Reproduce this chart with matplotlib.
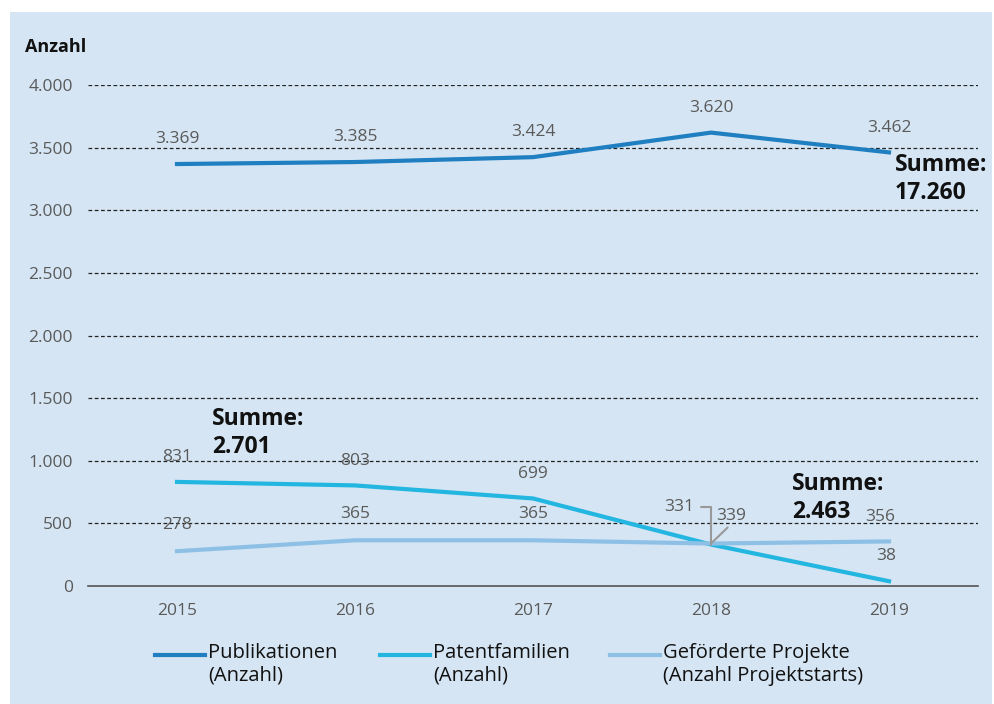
import matplotlib.pyplot as plt
from matplotlib.patches import Rectangle
from matplotlib.lines import Line2D
from matplotlib.ticker import FuncFormatter

plt.rcParams['font.family'] = ['Open Sans', 'DejaVu Sans']

jahre = [2015, 2016, 2017, 2018, 2019]
publikationen = [3369, 3385, 3424, 3620, 3462]
patente = [831, 803, 699, 331, 38]
projekte = [278, 365, 365, 339, 356]
summen = ['17.260', '2.701', '2.463']
legende = ['Publikationen\n(Anzahl)', 'Patentfamilien\n(Anzahl)',
           'Geförderte Projekte\n(Anzahl Projektstarts)']

bg = '#d5e5f3'
c_pub = '#1f7fc0'
c_pat = '#22b6e0'
c_proj = '#8ec0e6'
grau = '#5a5a5a'
fs = 12.5


def de(v):
    return f"{v:,.0f}".replace(',', '.')


fig = plt.figure(figsize=(9.94, 7.04), dpi=100)
fig.patch.set_facecolor('white')
fig.patches.append(Rectangle((10 / 994, 0), 982 / 994, 692 / 704, transform=fig.transFigure,
                             facecolor=bg, edgecolor='none', zorder=-10))

ax = fig.add_axes([88 / 994, 118 / 704, 890 / 994, 501 / 704])
ax.set_facecolor('none')

farben = [c_pub, c_pat, c_proj]
ax.plot(jahre, publikationen, color=c_pub, lw=3)
ax.plot(jahre, patente, color=c_pat, lw=3)
ax.plot(jahre, projekte, color=c_proj, lw=3)

ax.set_xlim(2014.5, 2019.5)
ax.set_ylim(0, 4000)
ax.set_yticks(range(0, 4001, 500))
ax.set_xticks(jahre)
ax.yaxis.set_major_formatter(FuncFormatter(lambda v, p: de(v)))
ax.tick_params(axis='both', length=0, labelsize=fs, labelcolor=grau)
ax.tick_params(axis='y', pad=11)
ax.tick_params(axis='x', pad=12)
for s in ['left', 'right', 'top']:
    ax.spines[s].set_visible(False)
ax.spines['bottom'].set_color('#555555')
ax.spines['bottom'].set_linewidth(1.2)
for y in range(500, 4001, 500):
    ax.axhline(y, color='#222222', lw=0.9, ls=(0, (3, 2)), zorder=0)


def wert(x, v, dx=0, dy=15):
    ax.annotate(de(v), (x, v), xytext=(dx, dy), textcoords='offset points',
                ha='center', fontsize=fs, color=grau)


for x, v in zip(jahre, publikationen):
    wert(x, v)
for x, v in zip(jahre[:3], patente[:3]):
    wert(x, v)
for x, v in zip(jahre[:3], projekte[:3]):
    wert(x, v, dy=16)
wert(jahre[4], projekte[4], dx=-6)
wert(jahre[4], patente[4], dx=-2)

# Callout 2018
ax.annotate(de(patente[3]), (jahre[3], patente[3]), xytext=(-12, 27), textcoords='offset points',
            ha='right', va='center', fontsize=fs, color=grau,
            arrowprops=dict(arrowstyle='-', color='#999999', lw=1.5,
                            connectionstyle='angle,angleA=0,angleB=90,rad=0',
                            shrinkA=3, shrinkB=0))
ax.annotate(de(projekte[3]), (jahre[3], projekte[3]), xytext=(4, 20), textcoords='offset points',
            ha='left', va='center', fontsize=fs, color=grau,
            arrowprops=dict(arrowstyle='-', color='#999999', lw=1.5, shrinkA=1, shrinkB=0,
                            relpos=(0.5, 0)))


# Summen (zwei Zeilen als getrennte Texte)
def summe(x, v, wert_text, dx, dy):
    kw = dict(textcoords='offset points', ha='left', va='center', fontsize=16.5,
              fontweight='bold', color='#111111')
    ax.annotate('Summe:', (x, v), xytext=(dx, dy + 10), **kw)
    ax.annotate(wert_text, (x, v), xytext=(dx, dy - 10), **kw)


summe(jahre[4], publikationen[4], summen[0], 4, -19)
summe(jahre[0], patente[0], summen[1], 25, 35)
summe(jahre[4], projekte[4], summen[2], -70, 31)

fig.text(25 / 994, 1 - 47 / 704, 'Anzahl', fontsize=13, fontweight='bold', color='#111111',
         va='center', ha='left')

# Legende
leg_x = [155, 380, 610]
for x0, farbe, text in zip(leg_x, farben, legende):
    fig.add_artist(Line2D([x0 / 994, (x0 + 50) / 994], [1 - 655 / 704] * 2, color=farbe, lw=3,
                          transform=fig.transFigure))
    fig.text((x0 + 53) / 994, 1 - 643 / 704, text, fontsize=14.5, color='#111111',
             va='top', ha='left', linespacing=1.2)

fig.savefig('out.png', dpi=100)
